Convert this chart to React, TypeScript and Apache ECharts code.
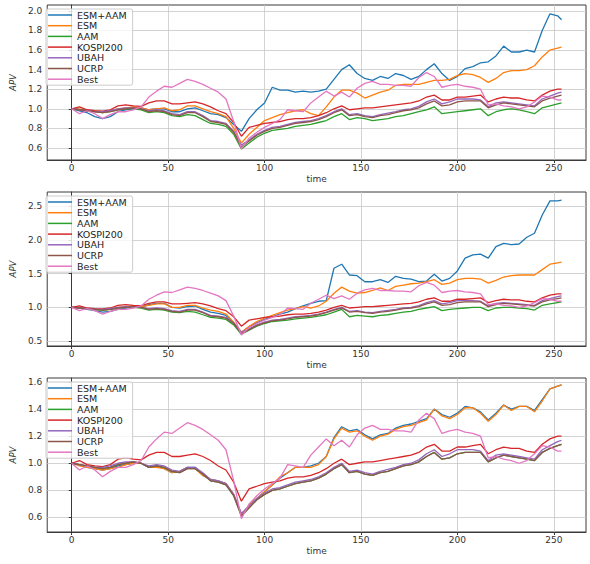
import React, { useEffect, useRef } from "react";
import * as echarts from "echarts";

// Trading-day index (sampled every 4 days) shared by every line
const timeSteps = [
  0, 4, 8, 12, 16, 20, 24, 28, 32, 36,
  40, 44, 48, 52, 56, 60, 64, 68, 72, 76,
  80, 84, 88, 92, 96, 100, 104, 108, 112, 116,
  120, 124, 128, 132, 136, 140, 144, 148, 152, 156,
  160, 164, 168, 172, 176, 180, 184, 188, 192, 196,
  200, 204, 208, 212, 216, 220, 224, 228, 232, 236,
  240, 244, 248, 252, 254,
];

// Benchmarks (identical in every panel)
const kospi200 = [
  1.0, 1.02, 0.99, 0.98, 0.975, 0.99, 1.03, 1.04, 1.03, 1.025,
  1.06, 1.08, 1.08, 1.05, 1.05, 1.06, 1.07, 1.05, 1.02, 0.98,
  0.95, 0.86, 0.72, 0.81, 0.83, 0.85, 0.86, 0.87, 0.89, 0.9,
  0.9, 0.91, 0.93, 0.96, 1.0, 1.03, 0.99, 1.0, 1.01, 1.01,
  1.02, 1.03, 1.04, 1.05, 1.06, 1.08, 1.12, 1.14, 1.09, 1.09,
  1.12, 1.12, 1.13, 1.14, 1.07, 1.1, 1.12, 1.11, 1.11, 1.09,
  1.08, 1.14, 1.18, 1.2, 1.2,
];
const ubah = [
  1.0, 0.99, 0.98, 0.97, 0.97, 0.98, 1.0, 1.01, 1.01, 1.0,
  0.98, 0.99, 0.98, 0.95, 0.94, 0.97, 0.97, 0.93, 0.88, 0.87,
  0.85, 0.77, 0.63, 0.68, 0.74, 0.78, 0.81, 0.82, 0.84, 0.86,
  0.87, 0.88, 0.9, 0.93, 0.97, 1.0, 0.94, 0.95, 0.93, 0.92,
  0.94, 0.955, 0.97, 0.99, 1.0, 1.025, 1.07, 1.1, 1.05, 1.07,
  1.1, 1.1, 1.1, 1.09, 1.02, 1.06, 1.07, 1.06, 1.05, 1.04,
  1.03, 1.1, 1.13, 1.16, 1.17,
];
const ucrp = [
  1.0, 0.99, 0.98, 0.97, 0.96, 0.97, 0.99, 1.0, 1.01, 1.0,
  0.97, 0.98, 0.97, 0.94, 0.93, 0.96, 0.96, 0.92, 0.87, 0.86,
  0.84, 0.76, 0.61, 0.67, 0.73, 0.77, 0.8, 0.81, 0.83, 0.85,
  0.86, 0.87, 0.89, 0.92, 0.96, 0.99, 0.93, 0.94, 0.92, 0.91,
  0.93, 0.94, 0.96, 0.98, 0.99, 1.01, 1.05, 1.08, 1.03, 1.04,
  1.07, 1.08, 1.08, 1.08, 1.01, 1.04, 1.06, 1.05, 1.04, 1.03,
  1.02, 1.08, 1.11, 1.13, 1.14,
];
const best = [
  1.0, 0.95, 0.98, 0.95, 0.9, 0.94, 0.97, 0.97, 0.99, 1.02,
  1.12, 1.18, 1.23, 1.22, 1.26, 1.3, 1.28, 1.25, 1.21, 1.17,
  1.1, 0.87, 0.59, 0.7, 0.76, 0.81, 0.85, 0.89, 0.99, 0.98,
  0.97, 1.06, 1.12, 1.18, 1.13, 1.17, 1.12, 1.21, 1.26, 1.28,
  1.25, 1.25, 1.24, 1.24, 1.23, 1.32, 1.37, 1.33, 1.22, 1.24,
  1.25, 1.23, 1.22, 1.2, 1.04, 1.05, 1.03, 1.02, 1.0, 1.02,
  1.07, 1.13, 1.12, 1.09, 1.09,
];

// Panel 1 strategies
const esmAam1 = [
  1.0, 0.98, 0.96, 0.92, 0.9, 0.92, 0.97, 0.99, 1.0, 1.01,
  0.99, 1.0, 1.0, 0.97, 0.97, 1.0, 1.01, 0.98, 0.95, 0.94,
  0.91, 0.84, 0.77, 0.9, 0.99, 1.06, 1.22, 1.19, 1.19, 1.17,
  1.18, 1.17, 1.18, 1.2, 1.3, 1.4, 1.45, 1.36, 1.31, 1.29,
  1.33, 1.31, 1.36, 1.34, 1.3, 1.33, 1.4, 1.46, 1.36, 1.29,
  1.33, 1.41, 1.43, 1.47, 1.48, 1.54, 1.64, 1.58, 1.58, 1.6,
  1.58, 1.8, 1.97, 1.95, 1.91,
];
const esm1 = [
  1.0, 1.0, 0.98, 0.97, 0.96, 0.98, 1.0, 1.01, 1.02, 1.01,
  0.99, 1.0, 1.01, 0.98, 0.99, 1.03, 1.03, 1.0, 0.97, 0.95,
  0.92, 0.8, 0.65, 0.74, 0.81, 0.88, 0.91, 0.94, 0.96, 0.98,
  0.99, 0.95, 0.93, 1.02, 1.12, 1.19, 1.19, 1.16, 1.11, 1.14,
  1.17, 1.19, 1.24, 1.25, 1.25, 1.25, 1.27, 1.29, 1.29, 1.3,
  1.34, 1.36, 1.35, 1.32, 1.27, 1.31, 1.37, 1.39, 1.39, 1.4,
  1.44, 1.53, 1.6, 1.62, 1.63,
];
const aam1 = [
  1.0, 0.99, 0.98, 0.97, 0.96, 0.97, 0.99, 1.0, 1.0, 0.99,
  0.96, 0.97, 0.96, 0.93, 0.92, 0.94, 0.93, 0.89, 0.85, 0.84,
  0.82, 0.74, 0.59, 0.65, 0.71, 0.75, 0.78, 0.79, 0.8, 0.82,
  0.83, 0.84, 0.86, 0.88, 0.92, 0.95, 0.89, 0.91, 0.9, 0.88,
  0.89, 0.9, 0.92, 0.93, 0.95, 0.97, 0.99, 1.02, 0.95, 0.96,
  0.97, 0.98, 0.99, 1.0, 0.93, 0.97, 0.99, 1.0, 0.99, 0.97,
  0.95, 1.01, 1.03, 1.05, 1.06,
];

// Panel 2 strategies
const esmAam2 = [
  1.0, 0.99, 0.97, 0.95, 0.93, 0.94, 0.97, 0.99, 1.01, 1.0,
  1.04, 1.06, 1.06, 1.0, 0.99, 1.01, 1.02, 0.97, 0.93, 0.91,
  0.88, 0.77, 0.63, 0.71, 0.77, 0.82, 0.86, 0.9, 0.93, 0.98,
  1.02, 1.06, 1.09, 1.1, 1.58, 1.64, 1.48, 1.47, 1.38, 1.38,
  1.41, 1.37, 1.46, 1.43, 1.42, 1.38, 1.39, 1.49, 1.39, 1.43,
  1.54, 1.73, 1.78, 1.79, 1.73, 1.9, 1.95, 1.93, 1.94, 2.04,
  2.1, 2.37, 2.58, 2.58, 2.59,
];
const esm2 = [
  1.0, 1.0, 0.98, 0.97, 0.96, 0.97, 1.0, 1.01, 1.02, 1.01,
  1.03, 1.05, 1.05, 1.0, 1.0, 1.03, 1.03, 0.99, 0.96, 0.94,
  0.9, 0.78, 0.63, 0.72, 0.79, 0.84, 0.88, 0.92, 0.96, 0.98,
  1.01, 0.99, 1.02, 1.09, 1.21, 1.3, 1.24, 1.21, 1.22, 1.25,
  1.29, 1.25, 1.31, 1.33, 1.35, 1.36, 1.38, 1.41, 1.34, 1.36,
  1.41, 1.43, 1.43, 1.42, 1.36, 1.4, 1.45, 1.47, 1.48, 1.48,
  1.48, 1.56, 1.64, 1.66, 1.67,
];
const aam2 = [
  1.0, 0.99, 0.98, 0.97, 0.96, 0.97, 0.99, 1.0, 1.0, 0.99,
  0.96, 0.97, 0.96, 0.93, 0.92, 0.94, 0.93, 0.89, 0.85, 0.84,
  0.82, 0.74, 0.6, 0.66, 0.72, 0.76, 0.79, 0.8, 0.81, 0.83,
  0.84, 0.85, 0.87, 0.89, 0.93, 0.97, 0.86, 0.88, 0.87, 0.86,
  0.88, 0.89, 0.91, 0.93, 0.94, 0.97, 0.99, 1.01, 0.95, 0.97,
  0.98, 0.99, 1.0, 1.0, 0.95, 0.99, 1.0, 1.0, 0.99, 0.98,
  0.96, 1.03, 1.05, 1.07, 1.08,
];

// Panel 3 strategies
const esmAam3 = [
  1.0, 0.99, 0.97, 0.96, 0.95, 0.96, 0.98, 0.99, 1.0, 1.0,
  0.97, 0.98, 0.96, 0.93, 0.94, 0.97, 0.97, 0.91, 0.88, 0.87,
  0.85, 0.77, 0.62, 0.69, 0.74, 0.79, 0.84, 0.89, 0.93, 0.97,
  0.97, 0.98, 1.0, 1.05, 1.19, 1.27, 1.24, 1.25, 1.21, 1.18,
  1.21, 1.22, 1.26, 1.28, 1.29, 1.31, 1.33, 1.4, 1.36, 1.34,
  1.37, 1.42, 1.41, 1.38, 1.32, 1.37, 1.43, 1.4, 1.42, 1.42,
  1.39, 1.47, 1.55, 1.57, 1.58,
];
const esm3 = [
  1.0, 0.98, 0.97, 0.96, 0.95, 0.96, 0.97, 0.99, 1.0, 1.0,
  0.97, 0.97, 0.96, 0.93, 0.94, 0.97, 0.96, 0.91, 0.88, 0.87,
  0.85, 0.77, 0.62, 0.69, 0.74, 0.79, 0.84, 0.9, 0.93, 0.97,
  0.97, 0.97, 0.99, 1.05, 1.18, 1.26, 1.23, 1.24, 1.2, 1.17,
  1.2, 1.215, 1.25, 1.27, 1.28, 1.3, 1.32, 1.4, 1.35, 1.33,
  1.36, 1.41, 1.41, 1.37, 1.31, 1.36, 1.43, 1.39, 1.42, 1.42,
  1.38, 1.46, 1.55, 1.57, 1.58,
];
const aam3 = [
  1.0, 0.99, 0.98, 0.97, 0.96, 0.97, 0.99, 1.0, 1.01, 1.0,
  0.97, 0.98, 0.97, 0.94, 0.93, 0.96, 0.96, 0.92, 0.87, 0.86,
  0.84, 0.76, 0.61, 0.67, 0.73, 0.77, 0.8, 0.81, 0.83, 0.85,
  0.86, 0.87, 0.89, 0.92, 0.96, 0.99, 0.93, 0.94, 0.92, 0.91,
  0.93, 0.94, 0.96, 0.98, 0.99, 1.01, 1.05, 1.08, 1.03, 1.04,
  1.07, 1.08, 1.08, 1.08, 1.01, 1.04, 1.06, 1.05, 1.04, 1.03,
  1.02, 1.08, 1.11, 1.13, 1.14,
];

const seriesNames = ["ESM+AAM", "ESM", "AAM", "KOSPI200", "UBAH", "UCRP", "Best"];
const seriesColors = ["#1f77b4", "#ff7f0e", "#2ca02c", "#d62728", "#9467bd", "#8c564b", "#e377c2"];

const xTicks = [0, 50, 100, 150, 200, 250];
const yTicks1 = [0.6, 0.8, 1.0, 1.2, 1.4, 1.6, 1.8, 2.0];
const yTicks2 = [0.5, 1.0, 1.5, 2.0, 2.5];
const yTicks3 = [0.6, 0.8, 1.0, 1.2, 1.4, 1.6];

const panels = [
  { lines: [esmAam1, esm1, aam1, kospi200, ubah, ucrp, best], yMin: 0.477, yMax: 2.06, yTicks: yTicks1, top: 5, height: 155 },
  { lines: [esmAam2, esm2, aam2, kospi200, ubah, ucrp, best], yMin: 0.426, yMax: 2.712, yTicks: yTicks2, top: 192, height: 154 },
  { lines: [esmAam3, esm3, aam3, kospi200, ubah, ucrp, best], yMin: 0.492, yMax: 1.63, yTicks: yTicks3, top: 378, height: 154 },
];

const FONT = "DejaVu Sans";
const TEXT = "#333";
const SPINE = "#3a3a3a";
const GRIDLINE = "#c8c8c8";

export default function App() {
  const ref = useRef<HTMLDivElement>(null);

  useEffect(() => {
    if (!ref.current) return;
    const chart = echarts.init(ref.current, undefined, { renderer: "svg" });

    const grid = panels.map((p) => ({
      left: 41,
      top: p.top,
      width: 545,
      height: p.height,
      show: true,
      borderColor: SPINE,
      borderWidth: 1,
      backgroundColor: "#fff",
    }));

    const xAxis = panels.map((_, i) => ({
      type: "value",
      gridIndex: i,
      min: -12.7,
      max: 266.7,
      name: "time",
      nameLocation: "middle",
      nameGap: 14,
      nameTextStyle: { fontFamily: FONT, fontSize: 9, color: TEXT, verticalAlign: "top" },
      axisLine: { show: true, lineStyle: { color: SPINE, width: 1 } },
      axisTick: { show: true, length: 3, lineStyle: { color: SPINE }, customValues: xTicks },
      axisLabel: { fontFamily: FONT, fontSize: 9, color: TEXT, margin: 3, customValues: xTicks, formatter: (v: number) => String(v) },
      splitLine: { show: true, lineStyle: { color: GRIDLINE, width: 0.8 } },
    }));

    const yAxis = panels.map((p, i) => ({
      type: "value",
      gridIndex: i,
      min: p.yMin,
      max: p.yMax,
      name: "APV",
      nameLocation: "middle",
      nameGap: 28,
      nameRotate: 90,
      nameTextStyle: { fontFamily: FONT, fontSize: 8.5, color: TEXT, fontStyle: "italic" },
      axisLine: { show: true, lineStyle: { color: SPINE, width: 1 } },
      axisTick: { show: true, length: 3, lineStyle: { color: SPINE }, customValues: p.yTicks },
      axisLabel: { fontFamily: FONT, fontSize: 9, color: TEXT, margin: 5, customValues: p.yTicks, formatter: (v: number) => v.toFixed(1) },
      splitLine: { show: true, lineStyle: { color: GRIDLINE, width: 0.8 } },
    }));

    const legend = panels.map((p) => ({
      orient: "vertical",
      left: 46,
      top: p.top + 4,
      data: seriesNames,
      icon: "rect",
      itemWidth: 24,
      itemHeight: 1.5,
      itemGap: 0.7,
      padding: [1, 6, 1, 2],
      backgroundColor: "rgba(255,255,255,0.8)",
      borderColor: "#cccccc",
      borderWidth: 1,
      borderRadius: 2,
      selectedMode: false,
      textStyle: { fontFamily: FONT, fontSize: 9.5, color: "#222", lineHeight: 10 },
    }));

    const series: any[] = [];
    panels.forEach((p, i) => {
      p.lines.forEach((vals, k) => {
        series.push({
          type: "line",
          name: seriesNames[k],
          xAxisIndex: i,
          yAxisIndex: i,
          data: timeSteps.map((t, j) => [t, vals[j]]),
          showSymbol: false,
          symbol: "none",
          silent: true,
          lineStyle: { color: seriesColors[k], width: 1.3 },
          itemStyle: { color: seriesColors[k] },
          emphasis: { disabled: true },
        });
      });
    });

    chart.setOption({
      animation: false,
      backgroundColor: "#fff",
      grid,
      xAxis,
      yAxis,
      legend,
      series,
    });

    return () => chart.dispose();
  }, []);

  return (
    <div
      ref={ref}
      style={{ position: "absolute", left: 0, top: 0, width: 590, height: 564 }}
    />
  );
}
